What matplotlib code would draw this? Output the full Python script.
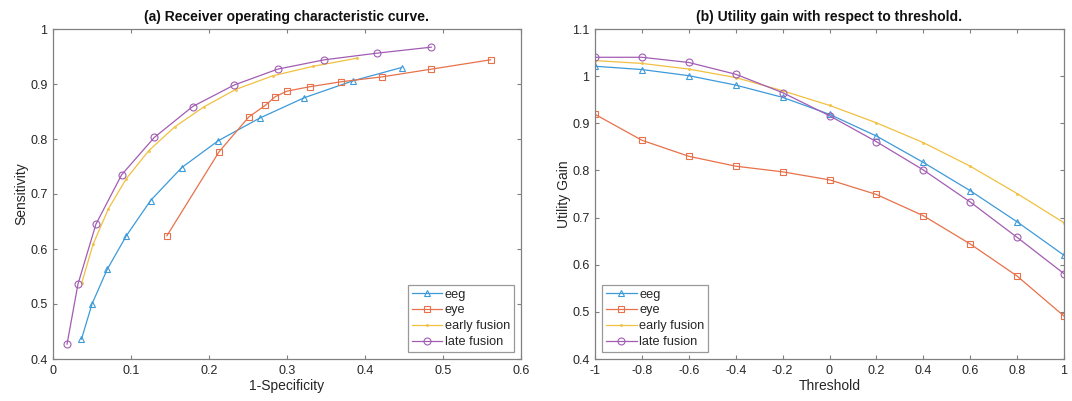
import numpy as np
import matplotlib
matplotlib.use("Agg")
import matplotlib.pyplot as plt

plt.rcParams['font.family'] = ['Liberation Sans', 'DejaVu Sans']

# (a) ROC curve: 1-specificity / sensitivity for each model
eeg_fpr = [0.0365, 0.050, 0.0695, 0.094, 0.125, 0.165, 0.212, 0.265, 0.322, 0.385, 0.447]
eeg_tpr = [0.436, 0.500, 0.563, 0.624, 0.688, 0.748, 0.797, 0.838, 0.875, 0.906, 0.930]
eye_fpr = [0.146, 0.213, 0.251, 0.272, 0.285, 0.300, 0.329, 0.369, 0.422, 0.485, 0.561]
eye_tpr = [0.624, 0.777, 0.840, 0.861, 0.877, 0.887, 0.895, 0.904, 0.913, 0.927, 0.944]
early_fpr = [0.037, 0.0515, 0.071, 0.094, 0.123, 0.156, 0.193, 0.234, 0.282, 0.333, 0.390]
early_tpr = [0.539, 0.609, 0.673, 0.728, 0.779, 0.822, 0.858, 0.890, 0.915, 0.932, 0.947]
late_fpr = [0.018, 0.032, 0.055, 0.088, 0.130, 0.179, 0.232, 0.288, 0.348, 0.415, 0.485]
late_tpr = [0.427, 0.536, 0.645, 0.735, 0.803, 0.859, 0.898, 0.927, 0.944, 0.956, 0.967]

# (b) utility gain vs threshold
thresholds = [-1, -0.8, -0.6, -0.4, -0.2, 0, 0.2, 0.4, 0.6, 0.8, 1]
eeg_gain = [1.021, 1.014, 1.001, 0.981, 0.955, 0.919, 0.873, 0.817, 0.757, 0.691, 0.620]
eye_gain = [0.919, 0.864, 0.830, 0.809, 0.797, 0.780, 0.749, 0.704, 0.644, 0.576, 0.491]
early_gain = [1.033, 1.027, 1.015, 0.997, 0.969, 0.938, 0.901, 0.859, 0.809, 0.751, 0.689]
late_gain = [1.040, 1.040, 1.029, 1.004, 0.965, 0.916, 0.861, 0.801, 0.733, 0.658, 0.581]

labels = ['eeg', 'eye', 'early fusion', 'late fusion']
colors = ['#3d9ad9', '#e8714a', '#f0c040', '#a25db3']
markers = ['^', 's', '.', 'o']
msizes = [5, 4, 2.5, 5]

text_col = '#262626'
axis_col = '#808080'

fig = plt.figure(figsize=(10.72, 4.01), dpi=100)
ax1 = fig.add_axes([53/1072, 1 - 359/401, 468/1072, 330/401])
ax2 = fig.add_axes([595/1072, 1 - 359/401, 469/1072, 330/401])


def draw(ax, series):
    for (x, y), lab, c, m, ms in zip(series, labels, colors, markers, msizes):
        ax.plot(x, y, color=c, marker=m, markersize=ms, markerfacecolor='none',
                markeredgecolor=c, markeredgewidth=0.8, linewidth=0.9, label=lab)


draw(ax1, [(eeg_fpr, eeg_tpr), (eye_fpr, eye_tpr),
           (early_fpr, early_tpr), (late_fpr, late_tpr)])
draw(ax2, [(thresholds, eeg_gain), (thresholds, eye_gain),
           (thresholds, early_gain), (thresholds, late_gain)])

ax1.set_xlim(0, 0.6)
ax1.set_ylim(0.4, 1)
ax1.set_xticks(np.arange(0, 0.61, 0.1))
ax1.set_xticklabels(['0', '0.1', '0.2', '0.3', '0.4', '0.5', '0.6'])
ax1.set_yticks(np.arange(0.4, 1.01, 0.1))
ax1.set_yticklabels(['0.4', '0.5', '0.6', '0.7', '0.8', '0.9', '1'])
ax1.set_xlabel('1-Specificity')
ax1.set_ylabel('Sensitivity')
ax1.set_title('(a) Receiver operating characteristic curve.', fontweight='bold')

ax2.set_xlim(-1, 1)
ax2.set_ylim(0.4, 1.1)
ax2.set_xticks(thresholds)
ax2.set_xticklabels(['-1', '-0.8', '-0.6', '-0.4', '-0.2', '0',
                     '0.2', '0.4', '0.6', '0.8', '1'])
ax2.set_yticks(np.arange(0.4, 1.11, 0.1))
ax2.set_yticklabels(['0.4', '0.5', '0.6', '0.7', '0.8', '0.9', '1', '1.1'])
ax2.set_xlabel('Threshold')
ax2.set_ylabel('Utility Gain')
ax2.set_title('(b) Utility gain with respect to threshold.', fontweight='bold')

for ax, loc in [(ax1, 'lower right'), (ax2, 'lower left')]:
    for s in ax.spines.values():
        s.set_color(axis_col)
        s.set_linewidth(0.9)
    ax.tick_params(direction='in', length=3, width=0.8, color=axis_col,
                   labelcolor=text_col, labelsize=9, top=True, right=True, pad=4)
    ax.xaxis.label.set_color(text_col)
    ax.yaxis.label.set_color(text_col)
    ax.xaxis.label.set_size(10)
    ax.yaxis.label.set_size(10)
    ax.xaxis.labelpad = 2
    ax.yaxis.labelpad = 1
    ax.title.set_size(10)
    ax.title.set_color('#111111')
    leg = ax.legend(loc=loc, fontsize=9.2, frameon=True, fancybox=False,
                    borderpad=0.3, labelspacing=0.3, handlelength=2.4,
                    handletextpad=0.2, borderaxespad=0.55)
    leg.get_frame().set_edgecolor(axis_col)
    leg.get_frame().set_linewidth(0.9)
    for t in leg.get_texts():
        t.set_color(text_col)

fig.savefig('out.png', dpi=100)
